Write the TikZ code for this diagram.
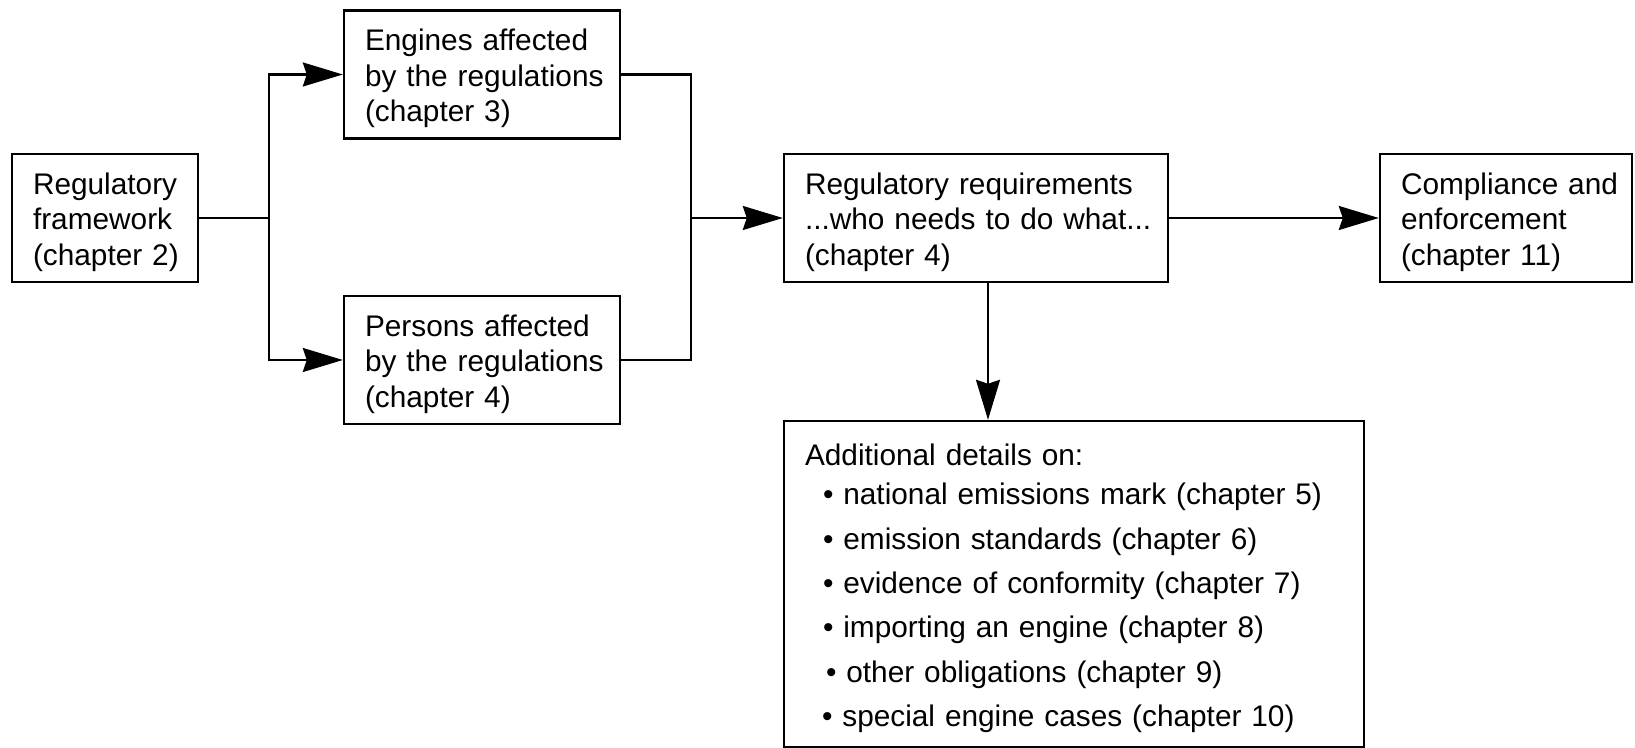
\documentclass[tikz,border=0pt]{standalone}
\usepackage{fontspec}
\setmainfont{Liberation Sans}
\usetikzlibrary{arrows.meta, positioning}

\tikzset{
  box/.style={draw, line width=1.2pt, inner xsep=0pt, text width=#1,
              minimum height=64pt,
              execute at begin node={\leftskip=10.5pt\rightskip=0pt plus 1fil
                                     \parindent=0pt\hyphenpenalty=10000},
              execute at end node={\par\kern-4.2pt}},
  link/.style={line width=1.1pt},
  flow/.style={link, -{Stealth[length=20pt, width=12pt, inset=2pt]}}
}

\begin{document}
\begin{tikzpicture}[x=0.5pt, y=-0.5pt, font=\fontsize{14.9}{17.7}\selectfont]
  \useasboundingbox (0,0) rectangle (1635,748);

  % ---- Boxes (centres in pixel units of the page) ----
  \node[box=93pt]  (frame)   at (105,218)  {Regulatory\\framework\\(chapter 2)};
  \node[box=138pt] (engines) at (482,74.5) {Engines affected\\by the regulations\\(chapter 3)};
  \node[box=138pt] (persons) at (482,360)  {Persons affected\\by the regulations\\(chapter 4)};
  \node[box=192pt] (req)     at (976,218)  {Regulatory requirements\\...who needs to do what...\\(chapter 4)};
  \node[box=126pt] (comp)    at (1506,218) {Compliance and\\enforcement\\(chapter 11)};
  \node[box=290pt, minimum height=163pt] (details) at (1074,584)
    {Additional details on:\\[2.1pt]
     \hspace*{9pt}• national emissions mark (chapter 5)\\[4.5pt]
     \hspace*{9pt}• emission standards (chapter 6)\\[4.5pt]
     \hspace*{9pt}• evidence of conformity (chapter 7)\\[4.5pt]
     \hspace*{9pt}• importing an engine (chapter 8)\\[4.5pt]
     \hspace*{10.5pt}• other obligations (chapter 9)\\[4.5pt]
     \hspace*{8.5pt}• special engine cases (chapter 10)};

  % ---- Split and merge points ----
  \coordinate (split) at (269,218);
  \coordinate (merge) at (691,218);

  % ---- Connectors ----
  \draw[link] (frame) -- (split);
  \draw[flow] (split) |- (engines);
  \draw[flow] (split) |- (persons);
  \draw[link] (engines) -| (merge);
  \draw[link] (persons) -| (merge);
  \draw[flow] (merge) -- (req);
  \draw[flow] (req) -- (comp);
  \draw[flow] ([xshift=6pt]req.south) -- ([xshift=6pt]req.south |- details.north);
\end{tikzpicture}
\end{document}
